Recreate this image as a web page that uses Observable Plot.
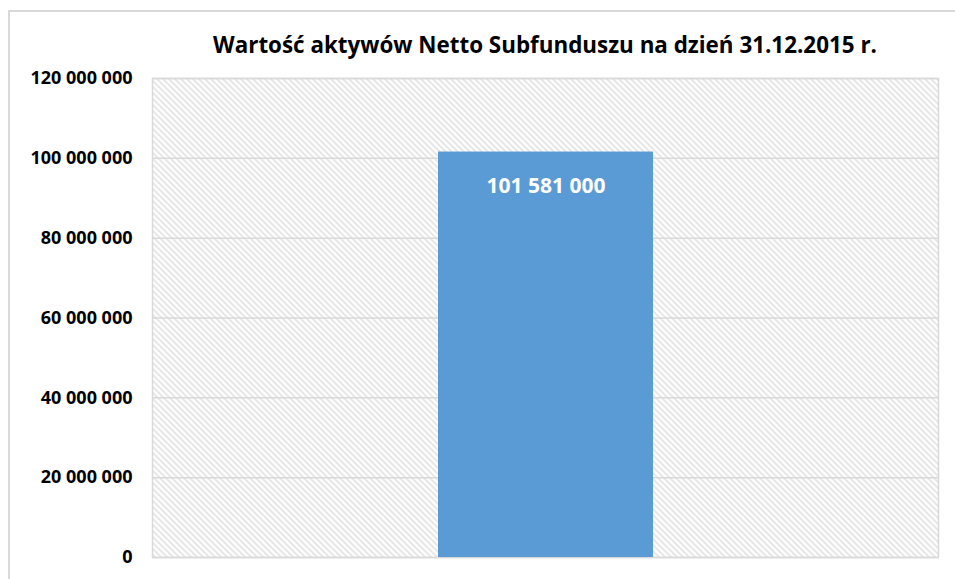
<!DOCTYPE html>
<html>
<head>
<meta charset="utf-8">
<script src="https://cdn.jsdelivr.net/npm/d3@7"></script>
<script src="https://cdn.jsdelivr.net/npm/@observablehq/plot@0.6"></script>
<style>
  html, body { margin: 0; padding: 0; background: #fff; }
  #wrap { position: relative; width: 955px; height: 579px; overflow: hidden; }
  #border { position: absolute; left: 8px; top: 10px; width: 1000px; height: 700px; border: 2px solid #d9d9d9; box-sizing: border-box; }
  #title { position: absolute; left: 0; top: 30px; width: 1090px; text-align: center; line-height: 30px;
           font-family: "Open Sans", Lato, sans-serif; font-weight: bold; font-size: 22.4px; color: #000; }
  #chart { position: absolute; left: 0; top: 0; }
</style>
</head>
<body>
<div id="wrap">
  <div id="border"></div>
  <div id="chart"></div>
  <div id="title">Wartość aktywów Netto Subfunduszu na dzień 31.12.2015 r.</div>
</div>
<script>
const categories = ["Subfundusz"];
const values = [101581000];
const yTicks = [0, 20000000, 40000000, 60000000, 80000000, 100000000, 120000000];

const data = categories.map((c, i) => ({category: c, value: values[i]}));
const fmt = d => d3.format(",")(d).replace(/,/g, " ");

const chart = Plot.plot({
  width: 955,
  height: 579,
  marginLeft: 152,
  marginRight: 17,
  marginTop: 78,
  marginBottom: 22,
  style: {fontFamily: "'Open Sans', Lato, sans-serif", background: "transparent", overflow: "visible"},
  x: {domain: categories, padding: 0.57, axis: null},
  y: {domain: [0, 120000000], ticks: yTicks, tickFormat: fmt, tickSize: 0, tickPadding: 20, label: null},
  marks: [
    Plot.frame({fill: "url(#hatch)", stroke: "none"}),
    Plot.ruleY(yTicks, {stroke: "#d9d9d9", strokeWidth: 1.5, strokeOpacity: 1}),
    Plot.frame({stroke: "#d9d9d9", strokeWidth: 1.5, fill: "none"}),
    Plot.barY(data, {x: "category", y: "value", fill: "#5b9bd5"}),
    Plot.text(data, {x: "category", y: "value", text: d => fmt(d.value), fill: "white",
      fontWeight: "bold", fontSize: 21, dy: 34, lineAnchor: "middle"}),
    Plot.axisY({ticks: yTicks, tickFormat: fmt, tickSize: 0, tickPadding: 20, fontSize: 18,
      fontWeight: "bold", fill: "#000", label: null})
  ]
});

const defs = d3.select(chart).insert("defs", ":first-child");
const pat = defs.append("pattern")
  .attr("id", "hatch")
  .attr("patternUnits", "userSpaceOnUse")
  .attr("width", 6).attr("height", 6);
pat.append("rect").attr("width", 6).attr("height", 6).attr("fill", "#fff");
pat.append("path")
  .attr("d", "M0,0 L6,6 M-1,5 L1,7 M5,-1 L7,1")
  .attr("stroke", "#d9d9d9").attr("stroke-width", 1.3);

document.getElementById("chart").appendChild(chart);
</script>
</body>
</html>
